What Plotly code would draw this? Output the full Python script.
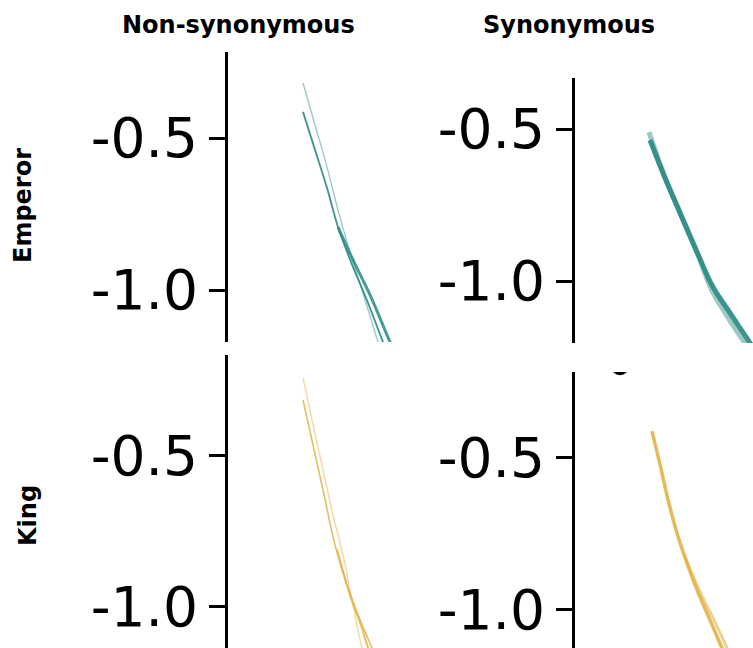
import plotly.graph_objects as go

W, H = 753, 648
TEAL = "#2a8a84"
GOLD = "#e3b448"

# ---- Emperor / Non-synonymous (top-left) ----
em_ns_a_x = [0.75, 0.87, 0.99, 1.10, 1.22, 1.34, 1.50, 1.57]
em_ns_a_y = [-0.319, -0.457, -0.595, -0.737, -0.875, -1.000, -1.171, -1.247]
em_ns_b_x = [0.75, 0.87, 0.99, 1.10, 1.23, 1.38, 1.55, 1.64]
em_ns_b_y = [-0.414, -0.539, -0.664, -0.793, -0.908, -1.026, -1.171, -1.247]
em_ns_c_x = [1.10, 1.25, 1.42, 1.62, 1.72]
em_ns_c_y = [-0.793, -0.901, -1.016, -1.171, -1.247]

# ---- Emperor / Synonymous (top-right) ----
em_s_dark_x = [0.75, 0.90, 1.05, 1.22, 1.38, 1.55, 1.75, 1.90]
em_s_dark_y = [-0.536, -0.661, -0.776, -0.905, -1.020, -1.105, -1.204, -1.276]
em_s_light_x = [0.74, 0.90, 1.05, 1.22, 1.36, 1.52, 1.71, 1.85]
em_s_light_y = [-0.510, -0.658, -0.774, -0.905, -1.025, -1.115, -1.210, -1.276]

# ---- King / Non-synonymous (bottom-left) ----
k_ns_a_x = [0.75, 0.84, 0.94, 1.05, 1.15, 1.24, 1.34, 1.40]
k_ns_a_y = [-0.242, -0.381, -0.530, -0.695, -0.828, -0.977, -1.136, -1.202]
k_ns_b_x = [0.75, 0.85, 0.95, 1.07, 1.20, 1.33, 1.44, 1.52]
k_ns_b_y = [-0.315, -0.464, -0.613, -0.795, -0.937, -1.050, -1.136, -1.202]
k_ns_c_x = [1.09, 1.22, 1.34, 1.40, 1.46]
k_ns_c_y = [-0.811, -0.960, -1.070, -1.136, -1.202]

# ---- King / Synonymous (bottom-right) ----
k_s_a_x = [0.77, 0.85, 0.93, 1.01, 1.09, 1.22, 1.35, 1.47, 1.55]
k_s_a_y = [-0.414, -0.523, -0.638, -0.737, -0.819, -0.934, -1.033, -1.125, -1.181]
k_s_b_x = [1.09, 1.24, 1.39, 1.52, 1.60]
k_s_b_y = [-0.819, -0.934, -1.033, -1.125, -1.181]
k_s_dot_x = [0.45]
k_s_dot_y = [-0.201]

tick_vals = [-1.0, -0.5]
tick_text = ["-1.0", "-0.5"]
col_titles = ["Non-synonymous", "Synonymous"]
row_titles = ["Emperor", "King"]

fig = go.Figure()

def line(x, y, color, width, opacity, xa, ya):
    fig.add_trace(go.Scatter(x=x, y=y, mode="lines", xaxis=xa, yaxis=ya,
                             line=dict(color=color, width=width, shape="spline", smoothing=1.0),
                             opacity=opacity, showlegend=False, hoverinfo="skip"))

line(em_ns_a_x, em_ns_a_y, TEAL, 1.4, 0.45, "x", "y")
line(em_ns_b_x, em_ns_b_y, TEAL, 1.8, 0.9, "x", "y")
line(em_ns_c_x, em_ns_c_y, TEAL, 3.0, 0.85, "x", "y")

line(em_s_light_x, em_s_light_y, TEAL, 5, 0.45, "x2", "y2")
line(em_s_dark_x, em_s_dark_y, TEAL, 5, 0.9, "x2", "y2")

line(k_ns_a_x, k_ns_a_y, GOLD, 1.4, 0.5, "x3", "y3")
line(k_ns_b_x, k_ns_b_y, GOLD, 1.6, 0.85, "x3", "y3")
line(k_ns_c_x, k_ns_c_y, GOLD, 2.2, 0.8, "x3", "y3")

line(k_s_a_x, k_s_a_y, GOLD, 3.5, 0.9, "x4", "y4")
line(k_s_b_x, k_s_b_y, GOLD, 3.0, 0.6, "x4", "y4")
fig.add_trace(go.Scatter(x=k_s_dot_x, y=k_s_dot_y, mode="markers", xaxis="x4", yaxis="y4",
                         marker=dict(color="black", size=18), cliponaxis=True,
                         showlegend=False, hoverinfo="skip"))

xdom_l = [228 / W, 440 / W]
xdom_r = [575 / W, 1.0]
ydoms = {
    "y": [1 - 342 / H, 1 - 52 / H],
    "y2": [1 - 343 / H, 1 - 78 / H],
    "y3": [0, 1 - 355 / H],
    "y4": [0, 1 - 372 / H],
}
yranges = {
    "y": [-1.171, -0.217],
    "y2": [-1.204, -0.332],
    "y3": [-1.136, -0.166],
    "y4": [-1.125, -0.220],
}

def xax(dom, rng, anchor):
    return dict(domain=dom, range=rng, visible=False, anchor=anchor, fixedrange=True)

def yax(key, anchor):
    return dict(domain=ydoms[key], range=yranges[key], anchor=anchor,
                showline=True, linecolor="black", linewidth=3,
                ticks="outside", ticklen=16, tickwidth=3, tickcolor="black",
                tickvals=tick_vals, ticktext=tick_text, ticklabelstandoff=0,
                tickfont=dict(family="DejaVu Sans", size=55, color="black"),
                showgrid=False, zeroline=False, fixedrange=True)

fig.update_layout(
    width=W, height=H, margin=dict(l=0, r=0, t=0, b=0),
    paper_bgcolor="white", plot_bgcolor="white",
    xaxis=xax(xdom_l, [0, 2.12], "y"),
    xaxis2=xax(xdom_r, [0, 1.78], "y2"),
    xaxis3=xax(xdom_l, [0, 2.12], "y3"),
    xaxis4=xax(xdom_r, [0, 1.78], "y4"),
    yaxis=yax("y", "x"),
    yaxis2=yax("y2", "x2"),
    yaxis3=yax("y3", "x3"),
    yaxis4=yax("y4", "x4"),
)

tf = dict(family="DejaVu Sans", size=24, color="black")
fig.add_annotation(text="<b>%s</b>" % col_titles[0], x=238 / W, y=1 - 25 / H, xref="paper", yref="paper",
                   showarrow=False, font=tf, xanchor="center", yanchor="middle")
fig.add_annotation(text="<b>%s</b>" % col_titles[1], x=569 / W, y=1 - 25 / H, xref="paper", yref="paper",
                   showarrow=False, font=tf, xanchor="center", yanchor="middle")
fig.add_annotation(text="<b>%s</b>" % row_titles[0], x=23 / W, y=1 - 206 / H, xref="paper", yref="paper",
                   showarrow=False, font=tf, textangle=-90, xanchor="center", yanchor="middle")
fig.add_annotation(text="<b>%s</b>" % row_titles[1], x=28 / W, y=1 - 516 / H, xref="paper", yref="paper",
                   showarrow=False, font=tf, textangle=-90, xanchor="center", yanchor="middle")

fig.write_html("out.html", config={"displayModeBar": False},
               post_script="document.body.style.margin='0';document.body.style.overflow='hidden';")
